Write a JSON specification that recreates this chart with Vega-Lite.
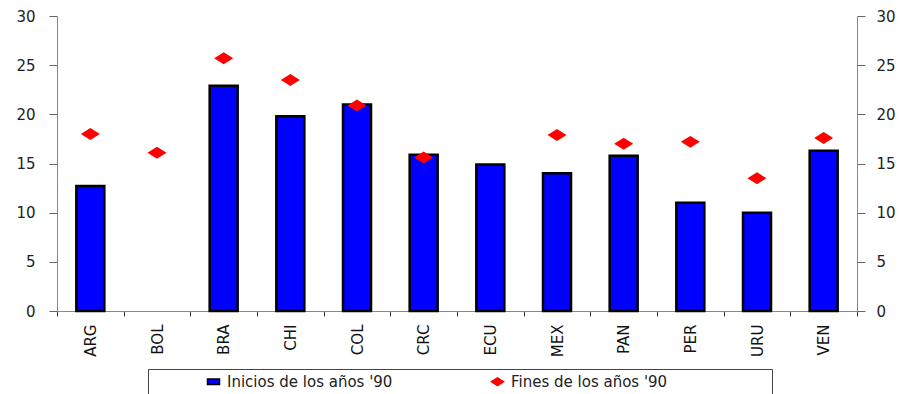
{
  "$schema": "https://vega.github.io/schema/vega-lite/v6.json",
  "width": 800,
  "height": 295,
  "autosize": {"type": "none"},
  "padding": {"left": 57, "top": 16, "right": 46, "bottom": 83},
  "background": "white",
  "config": {
    "view": {"stroke": null},
    "font": "DejaVu Sans",
    "axis": {
      "labelFont": "DejaVu Sans",
      "labelColor": "#222222",
      "domainColor": "#888888",
      "tickColor": "#666666",
      "grid": false,
      "title": null
    },
    "legend": {
      "orient": "none",
      "legendX": 91,
      "legendY": 353,
      "direction": "horizontal",
      "columns": 2,
      "columnPadding": 44,
      "padding": 5,
      "strokeColor": "#444444",
      "fillColor": "white",
      "labelFont": "DejaVu Sans",
      "labelFontSize": 15,
      "labelColor": "#222222",
      "labelOffset": 6,
      "symbolOffset": 53,
      "symbolSize": 144,
      "symbolStrokeWidth": 1.5,
      "labelLimit": 500
    }
  },
  "data": {
    "values": [
      {"pais": "ARG", "serie": "Inicios de los años '90", "valor": 12.7},
      {"pais": "BRA", "serie": "Inicios de los años '90", "valor": 22.9},
      {"pais": "CHI", "serie": "Inicios de los años '90", "valor": 19.8},
      {"pais": "COL", "serie": "Inicios de los años '90", "valor": 21.0},
      {"pais": "CRC", "serie": "Inicios de los años '90", "valor": 15.9},
      {"pais": "ECU", "serie": "Inicios de los años '90", "valor": 14.9},
      {"pais": "MEX", "serie": "Inicios de los años '90", "valor": 14.0},
      {"pais": "PAN", "serie": "Inicios de los años '90", "valor": 15.8},
      {"pais": "PER", "serie": "Inicios de los años '90", "valor": 11.0},
      {"pais": "URU", "serie": "Inicios de los años '90", "valor": 10.0},
      {"pais": "VEN", "serie": "Inicios de los años '90", "valor": 16.3},
      {"pais": "ARG", "serie": "Fines de los años '90", "valor": 18.0},
      {"pais": "BOL", "serie": "Fines de los años '90", "valor": 16.1},
      {"pais": "BRA", "serie": "Fines de los años '90", "valor": 25.7},
      {"pais": "CHI", "serie": "Fines de los años '90", "valor": 23.5},
      {"pais": "COL", "serie": "Fines de los años '90", "valor": 20.9},
      {"pais": "CRC", "serie": "Fines de los años '90", "valor": 15.6},
      {"pais": "MEX", "serie": "Fines de los años '90", "valor": 17.9},
      {"pais": "PAN", "serie": "Fines de los años '90", "valor": 17.0},
      {"pais": "PER", "serie": "Fines de los años '90", "valor": 17.2},
      {"pais": "URU", "serie": "Fines de los años '90", "valor": 13.5},
      {"pais": "VEN", "serie": "Fines de los años '90", "valor": 17.6}
    ]
  },
  "encoding": {
    "x": {
      "field": "pais",
      "type": "nominal",
      "sort": ["ARG", "BOL", "BRA", "CHI", "COL", "CRC", "ECU", "MEX", "PAN", "PER", "URU", "VEN"],
      "scale": {
        "domain": ["ARG", "BOL", "BRA", "CHI", "COL", "CRC", "ECU", "MEX", "PAN", "PER", "URU", "VEN"],
        "paddingInner": 0,
        "paddingOuter": 0
      },
      "axis": {
        "title": null,
        "labelAngle": -90,
        "tickBand": "extent",
        "tickSize": 5,
        "tickColor": "#333333",
        "labelPadding": 8,
        "labelFontSize": 15,
        "labelColor": "#111111"
      }
    }
  },
  "layer": [
    {
      "transform": [{"filter": "datum.serie === \"Inicios de los años '90\""}],
      "mark": {"type": "bar", "width": {"band": 0.42}, "strokeWidth": 2.5},
      "encoding": {
        "y": {
          "field": "valor",
          "type": "quantitative",
          "scale": {"domain": [0, 30], "nice": false},
          "axis": {
            "orient": "left",
            "title": null,
            "values": [0, 5, 10, 15, 20, 25, 30],
            "tickSize": 8,
            "labelPadding": 14,
            "labelFontSize": 15
          }
        },
        "color": {
          "field": "serie",
          "type": "nominal",
          "scale": {"domain": ["Inicios de los años '90", "Fines de los años '90"], "range": ["#0000ff", "#ff0000"]},
          "legend": {
            "title": null,
            "labelExpr": "indexof(datum.label, 'Fines') === 0 ? datum.label + '\u2800\u2800\u2800\u2800\u2800\u2800\u2800\u2800\u2800' : datum.label"
          }
        },
        "stroke": {
          "field": "serie",
          "type": "nominal",
          "scale": {"domain": ["Inicios de los años '90", "Fines de los años '90"], "range": ["#000000", "#ff0000"]},
          "legend": {
            "title": null,
            "labelExpr": "indexof(datum.label, 'Fines') === 0 ? datum.label + '\u2800\u2800\u2800\u2800\u2800\u2800\u2800\u2800\u2800' : datum.label"
          }
        }
      }
    },
    {
      "transform": [{"filter": "datum.serie === \"Fines de los años '90\""}],
      "mark": {"type": "point", "filled": true, "size": 361, "opacity": 1},
      "encoding": {
        "y": {
          "field": "valor",
          "type": "quantitative",
          "scale": {"domain": [0, 30], "nice": false},
          "axis": {
            "orient": "right",
            "title": null,
            "values": [0, 5, 10, 15, 20, 25, 30],
            "tickSize": 8,
            "labelPadding": 11,
            "labelFontSize": 15
          }
        },
        "color": {
          "field": "serie",
          "type": "nominal",
          "scale": {"domain": ["Inicios de los años '90", "Fines de los años '90"], "range": ["#0000ff", "#ff0000"]},
          "legend": {
            "title": null,
            "labelExpr": "indexof(datum.label, 'Fines') === 0 ? datum.label + '\u2800\u2800\u2800\u2800\u2800\u2800\u2800\u2800\u2800' : datum.label"
          }
        },
        "shape": {
          "field": "serie",
          "type": "nominal",
          "scale": {"domain": ["Inicios de los años '90", "Fines de los años '90"], "range": ["M-1,-0.45H1V0.45H-1Z", "M-1,0L0,-0.63L1,0L0,0.63Z"]},
          "legend": {
            "title": null,
            "labelExpr": "indexof(datum.label, 'Fines') === 0 ? datum.label + '\u2800\u2800\u2800\u2800\u2800\u2800\u2800\u2800\u2800' : datum.label"
          }
        }
      }
    }
  ],
  "resolve": {"scale": {"y": "independent"}}
}
